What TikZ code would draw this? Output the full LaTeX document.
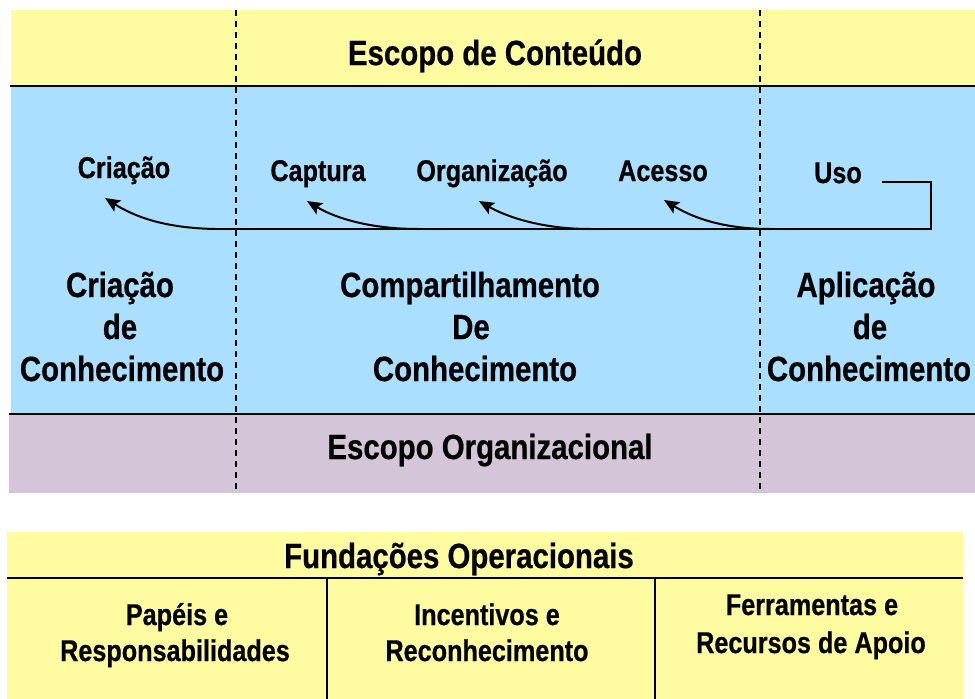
\documentclass[tikz,border=0pt]{standalone}
\usepackage{fontspec}
\setmainfont{Liberation Sans}[FakeStretch=0.84, BoldFeatures={FakeBold=0.6}]
\usetikzlibrary{arrows.meta}
\definecolor{ylw}{RGB}{255,251,160}
\definecolor{blu}{RGB}{170,223,255}
\definecolor{prp}{RGB}{212,197,216}
\begin{document}
\begin{tikzpicture}[x=1pt,y=-1pt,
  big/.style={font=\fontsize{35}{42}\selectfont\bfseries, inner sep=0pt, anchor=base},
  lbl/.style={font=\fontsize{30}{38}\selectfont\bfseries, inner sep=0pt, anchor=base},
  sep/.style={line width=2.2pt},
  dsh/.style={line width=1.8pt, dash pattern=on 6pt off 5pt},
  conn/.style={line width=2pt},
  arr/.style={line width=2pt, -{Stealth[length=15pt,width=13pt,inset=3pt]}}]
\useasboundingbox (0,0) rectangle (975,699);
% bands
\fill[ylw] (11,10) rectangle (975,86);
\fill[blu] (11,86) rectangle (975,414);
\fill[prp] (9,414) rectangle (975,493);
\draw[sep] (10,86) -- (975,86);
\draw[sep] (9,414) -- (975,414);
\draw[dsh] (236,10) -- (236,493);
\draw[dsh] (760,10) -- (760,493);
% titles
\node[big] (ec) at (495,65) {Escopo de Conteúdo};
\node[big] (eo) at (490,459) {Escopo Organizacional};
% process labels
\node[lbl] (cri) at (124,178) {Criação};
\node[lbl] (cap) at (318,181) {Captura};
\node[lbl] (org) at (492,181) {Organização};
\node[lbl] (ace) at (663,181) {Acesso};
\node[lbl] (uso) at (838,183) {Uso};
% phase labels
\node[big] (cc1) at (120,297) {Criação};
\node[big] (cc2) at (120,339) {de};
\node[big] (cc3) at (122,381) {Conhecimento};
\node[big] (sc1) at (470,297) {Compartilhamento};
\node[big] (sc2) at (471,339) {De};
\node[big] (sc3) at (475,381) {Conhecimento};
\node[big] (ac1) at (866,297) {Aplicação};
\node[big] (ac2) at (870,339) {de};
\node[big] (ac3) at (869,381) {Conhecimento};
% connectors
\coordinate (u0) at (882,182);
\coordinate (u1) at (931,182);
\coordinate (u2) at (931,229);
\coordinate (b0) at (215,229);
\coordinate (bAc) at (770,229);
\coordinate (bOr) at (590,229);
\coordinate (bCa) at (418,229);
\coordinate (tCr) at (105,198);
\coordinate (tCa) at (307,201);
\coordinate (tOr) at (479,201);
\coordinate (tAc) at (664,200);
\draw[conn] (u0) -- (u1) -- (u2) -- (b0);
\draw[arr] (b0) .. controls (165,228) and (135,217) .. (tCr);
\draw[arr] (bCa) .. controls (370,229) and (335,218) .. (tCa);
\draw[arr] (bOr) .. controls (540,229) and (505,216) .. (tOr);
\draw[arr] (bAc) .. controls (720,229) and (690,216) .. (tAc);
% operational foundations table
\fill[ylw] (7,532) rectangle (963,699);
\draw[sep] (7,578) -- (963,578);
\draw[conn] (327,578) -- (327,699);
\draw[conn] (655,578) -- (655,699);
\node[big] (fo) at (459,568) {Fundações Operacionais};
\node[lbl] (p1) at (177,625) {Papéis e};
\node[lbl] (p2) at (175,661) {Responsabilidades};
\node[lbl] (i1) at (487,625) {Incentivos e};
\node[lbl] (i2) at (487,661) {Reconhecimento};
\node[lbl] (f1) at (812,615) {Ferramentas e};
\node[lbl] (f2) at (811,653) {Recursos de Apoio};
\end{tikzpicture}
\end{document}
